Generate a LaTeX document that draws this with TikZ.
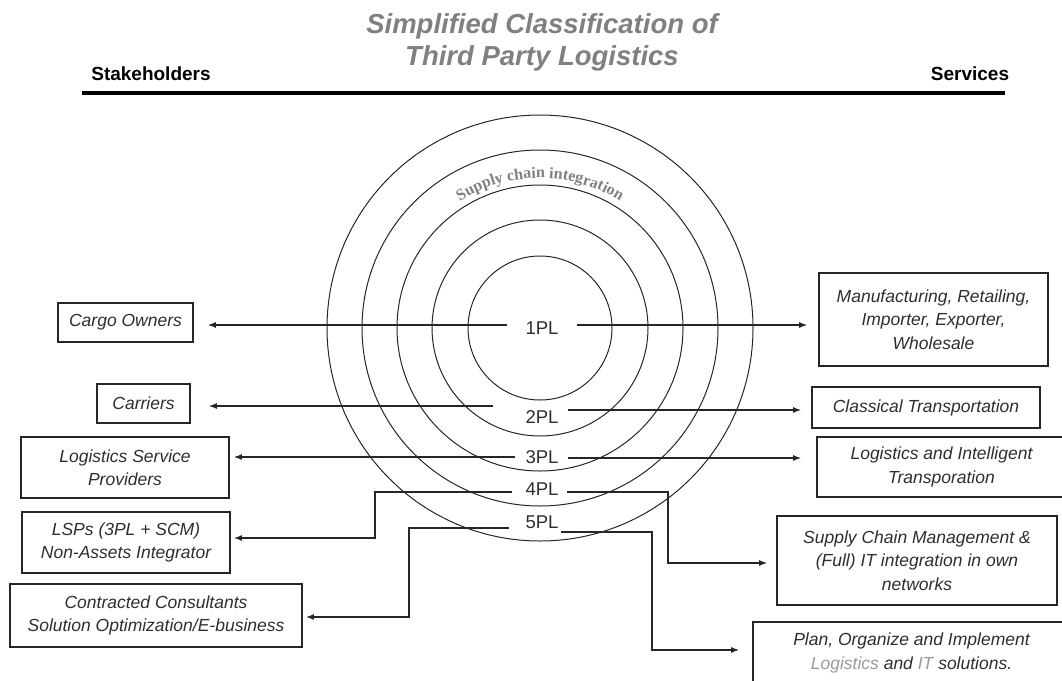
\documentclass[tikz,border=0pt]{standalone}
\usepackage{fontspec}
\setmainfont{Liberation Sans}
\newfontfamily\serifc{Liberation Serif}
\usetikzlibrary{arrows.meta,decorations.text}
\definecolor{txt}{HTML}{2E2E2E}
\definecolor{ln}{HTML}{262626}
\definecolor{ttl}{HTML}{808080}
\definecolor{lgr}{HTML}{9A9A9A}
\begin{document}
\begin{tikzpicture}[x=1pt,y=-1pt,
  box/.style={draw=ln, line width=1.7pt, inner sep=0pt, align=center,
    font=\fontsize{17.5}{23.5}\selectfont\itshape, text=txt},
  pl/.style={font=\fontsize{18.5}{22}\selectfont, text=txt, inner sep=0pt},
  ring/.style={draw=ln, line width=1pt},
  arr/.style={draw=ln, line width=1.3pt, -{Latex[length=8pt,width=6pt]}},
  hdr/.style={font=\fontsize{19}{22}\selectfont\bfseries, text=black, inner sep=0pt},
]
\useasboundingbox (0,0) rectangle (1062,680);

% title and header
\node[font=\fontsize{27.5}{32}\selectfont\bfseries\itshape, text=ttl, align=center, inner sep=0pt] (title) at (542,42) {Simplified Classification of\\Third Party Logistics};
\node[hdr] (stake) at (151,74) {Stakeholders};
\node[hdr] (serv) at (970,74) {Services};
\coordinate (ruleL) at (82,93);
\coordinate (ruleR) at (1005,93);
\draw[line width=4.5pt] (ruleL) -- (ruleR);

% rings
\coordinate (c) at (540,328);
\foreach \r in {72,108,143,178,213} \draw[ring] (c) circle[radius=\r pt];
\path[decorate, decoration={text along path, text align=center, text color=ttl,
  text={|\serifc\bfseries\fontsize{16}{16}\selectfont|Supply chain integration}}]
  (c) ++(131:150pt) arc[start angle=131, end angle=49, radius=150pt];

% PL labels
\node[pl] (pl1) at (542,328) {1PL};
\node[pl] (pl2) at (542,417) {2PL};
\node[pl] (pl3) at (542,457) {3PL};
\node[pl] (pl4) at (542,489) {4PL};
\node[pl] (pl5) at (542,522) {5PL};

% stakeholder boxes
\node[box, minimum width=135pt, minimum height=39pt] (cargo) at (125.5,322.5) {Cargo Owners};
\node[box, minimum width=93pt, minimum height=39pt] (carriers) at (143.5,403.5) {Carriers};
\node[box, minimum width=208pt, minimum height=61pt] (lsp) at (125,467.5) {Logistics Service\\Providers};
\node[box, minimum width=208pt, minimum height=61pt] (lsps) at (126,542.5) {LSPs (3PL + SCM)\\Non-Assets Integrator};
\node[box, minimum width=292pt, minimum height=63pt] (contr) at (156,615.5) {Contracted Consultants\\Solution Optimization/E-business};

% service boxes
\node[box, minimum width=229pt, minimum height=93pt] (manuf) at (933.5,319.5) {Manufacturing, Retailing,\\Importer, Exporter,\\Wholesale};
\node[box, minimum width=228pt, minimum height=41pt] (classic) at (926,407.5) {Classical Transportation};
\node[box, minimum width=249pt, minimum height=60pt] (logint) at (941.5,467) {Logistics and Intelligent\\Transporation};
\node[box, minimum width=280pt, minimum height=89pt] (supply) at (917,560.5) {Supply Chain Management \&\\(Full) IT integration in own\\networks};
\node[box, minimum width=317pt, minimum height=62pt] (plan) at (911.5,653) {Plan, Organize and Implement\\{\color{lgr}Logistics} and {\color{lgr}IT} solutions.};

% connector start points and bends
\coordinate (l1) at (507,325);
\coordinate (r1) at (577,325);
\coordinate (l2) at (493,406);
\coordinate (r2) at (568,410);
\coordinate (l3) at (515,457);
\coordinate (r3) at (568,458);
\coordinate (l4) at (512,492);
\coordinate (b4a) at (375,492);
\coordinate (b4b) at (375,538);
\coordinate (r4) at (567,492);
\coordinate (b4c) at (668,492);
\coordinate (b4d) at (668,563);
\coordinate (l5) at (509,528);
\coordinate (b5a) at (409,528);
\coordinate (b5b) at (409,617);
\coordinate (r5) at (561,532);
\coordinate (b5c) at (652,532);
\coordinate (b5d) at (652,650);

% connectors
\draw[arr, shorten >=14pt] (l1) -- (cargo.east |- l1);
\draw[arr, shorten >=11pt] (r1) -- (manuf.west |- r1);
\draw[arr, shorten >=18pt] (l2) -- (carriers.east |- l2);
\draw[arr, shorten >=10pt] (r2) -- (classic.west |- r2);
\draw[arr, shorten >=4pt] (l3) -- (lsp.east |- l3);
\draw[arr, shorten >=15pt] (r3) -- (logint.west |- r3);
\draw[arr, shorten >=3pt] (l4) -- (b4a) -- (b4b) -- (lsps.east |- b4b);
\draw[arr, shorten >=9pt] (r4) -- (b4c) -- (b4d) -- (supply.west |- b4d);
\draw[arr, shorten >=3pt] (l5) -- (b5a) -- (b5b) -- (contr.east |- b5b);
\draw[arr, shorten >=13pt] (r5) -- (b5c) -- (b5d) -- (plan.west |- b5d);
\end{tikzpicture}
\end{document}
